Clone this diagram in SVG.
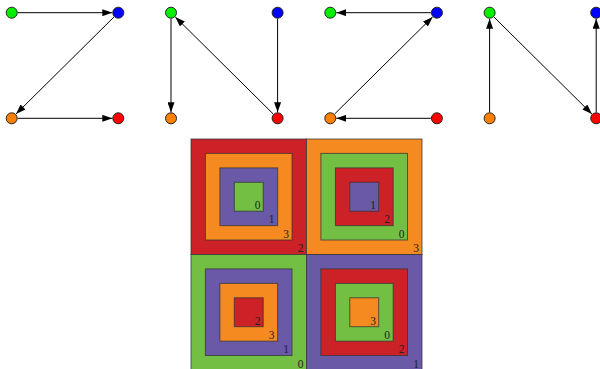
<svg xmlns="http://www.w3.org/2000/svg" width="600" height="369" viewBox="0 0 600 369">
<style>
.n{stroke:#222;stroke-width:1}
.e{stroke:#000;stroke-width:1;fill:none;marker-end:url(#ah)}
.sq{stroke:#333;stroke-opacity:0.75;stroke-width:1}
.lb{font-family:"Liberation Serif","Times New Roman",serif;font-size:11.5px;fill:#222;text-anchor:middle}
.R{fill:#cd2128}.O{fill:#f58a20}.P{fill:#6a59a6}.G{fill:#73bf44}
</style>
<defs>
<marker id="ah" markerUnits="userSpaceOnUse" markerWidth="10" markerHeight="7" refX="10" refY="3.5" orient="auto">
<path d="M0,0 L10,3.5 L0,7 z" fill="#000"/>
</marker>
</defs>
<rect width="600" height="369" fill="#fff"/>
<g id="connectors">
<line class="e" x1="17.7" y1="12.7" x2="112.3" y2="12.7"/>
<line class="e" x1="114.04" y1="16.92" x2="15.96" y2="114.08"/>
<line class="e" x1="17.7" y1="118.3" x2="112.3" y2="118.3"/>
<line class="e" x1="171" y1="18.7" x2="171" y2="112.3"/>
<line class="e" x1="277.6" y1="18.7" x2="277.6" y2="112.3"/>
<line class="e" x1="273.34" y1="114.08" x2="175.26" y2="16.92"/>
<line class="e" x1="430.9" y1="12.7" x2="336.3" y2="12.7"/>
<line class="e" x1="334.56" y1="114.08" x2="432.64" y2="16.92"/>
<line class="e" x1="430.9" y1="118.3" x2="336.3" y2="118.3"/>
<line class="e" x1="489.6" y1="112.3" x2="489.6" y2="18.7"/>
<line class="e" x1="493.86" y1="16.92" x2="591.94" y2="114.08"/>
<line class="e" x1="596.2" y1="112.3" x2="596.2" y2="18.7"/>
</g>
<g id="g1-green"><circle class="n" cx="11.7" cy="12.7" r="5.5" fill="#00f000"/></g>
<g id="g1-blue"><circle class="n" cx="118.3" cy="12.7" r="5.5" fill="#0000ff"/></g>
<g id="g1-orange"><circle class="n" cx="11.7" cy="118.3" r="5.5" fill="#ff8000"/></g>
<g id="g1-red"><circle class="n" cx="118.3" cy="118.3" r="5.5" fill="#ff0000"/></g>
<g id="g2-green"><circle class="n" cx="171" cy="12.7" r="5.5" fill="#00f000"/></g>
<g id="g2-blue"><circle class="n" cx="277.6" cy="12.7" r="5.5" fill="#0000ff"/></g>
<g id="g2-orange"><circle class="n" cx="171" cy="118.3" r="5.5" fill="#ff8000"/></g>
<g id="g2-red"><circle class="n" cx="277.6" cy="118.3" r="5.5" fill="#ff0000"/></g>
<g id="g3-green"><circle class="n" cx="330.3" cy="12.7" r="5.5" fill="#00f000"/></g>
<g id="g3-blue"><circle class="n" cx="436.9" cy="12.7" r="5.5" fill="#0000ff"/></g>
<g id="g3-orange"><circle class="n" cx="330.3" cy="118.3" r="5.5" fill="#ff8000"/></g>
<g id="g3-red"><circle class="n" cx="436.9" cy="118.3" r="5.5" fill="#ff0000"/></g>
<g id="g4-green"><circle class="n" cx="489.6" cy="12.7" r="5.5" fill="#00f000"/></g>
<g id="g4-blue"><circle class="n" cx="596.2" cy="12.7" r="5.5" fill="#0000ff"/></g>
<g id="g4-orange"><circle class="n" cx="489.6" cy="118.3" r="5.5" fill="#ff8000"/></g>
<g id="g4-red"><circle class="n" cx="596.2" cy="118.3" r="5.5" fill="#ff0000"/></g>
<g id="squares">
<g id="q-tl">
<rect class="sq R" x="191" y="139" width="115.5" height="115.5"/>
<rect class="sq O" x="205.4" y="153.4" width="86.6" height="86.6"/>
<rect class="sq P" x="219.9" y="167.9" width="57.75" height="57.75"/>
<rect class="sq G" x="234.3" y="182.3" width="28.9" height="28.9"/>
<text class="lb" x="300.5" y="252">2</text>
<text class="lb" x="286" y="237.5">3</text>
<text class="lb" x="271.6" y="223.1">1</text>
<text class="lb" x="257.7" y="209">0</text>
</g>
<g id="q-tr">
<rect class="sq O" x="306.5" y="139" width="115.5" height="115.5"/>
<rect class="sq G" x="320.9" y="153.4" width="86.6" height="86.6"/>
<rect class="sq R" x="335.4" y="167.9" width="57.75" height="57.75"/>
<rect class="sq P" x="349.8" y="182.3" width="28.9" height="28.9"/>
<text class="lb" x="416" y="252">3</text>
<text class="lb" x="401.5" y="237.5">0</text>
<text class="lb" x="387.1" y="223.1">2</text>
<text class="lb" x="373.2" y="209">1</text>
</g>
<g id="q-bl">
<rect class="sq G" x="191" y="254.5" width="115.5" height="115.5"/>
<rect class="sq P" x="205.4" y="268.9" width="86.6" height="86.6"/>
<rect class="sq O" x="219.9" y="283.4" width="57.75" height="57.75"/>
<rect class="sq R" x="234.3" y="297.8" width="28.9" height="28.9"/>
<text class="lb" x="300.5" y="367.5">0</text>
<text class="lb" x="286" y="353">1</text>
<text class="lb" x="271.6" y="338.6">3</text>
<text class="lb" x="257.7" y="324.5">2</text>
</g>
<g id="q-br">
<rect class="sq P" x="306.5" y="254.5" width="115.5" height="115.5"/>
<rect class="sq R" x="320.9" y="268.9" width="86.6" height="86.6"/>
<rect class="sq G" x="335.4" y="283.4" width="57.75" height="57.75"/>
<rect class="sq O" x="349.8" y="297.8" width="28.9" height="28.9"/>
<text class="lb" x="416" y="367.5">1</text>
<text class="lb" x="401.5" y="353">2</text>
<text class="lb" x="387.1" y="338.6">0</text>
<text class="lb" x="373.2" y="324.5">3</text>
</g>
</g>
</svg>
